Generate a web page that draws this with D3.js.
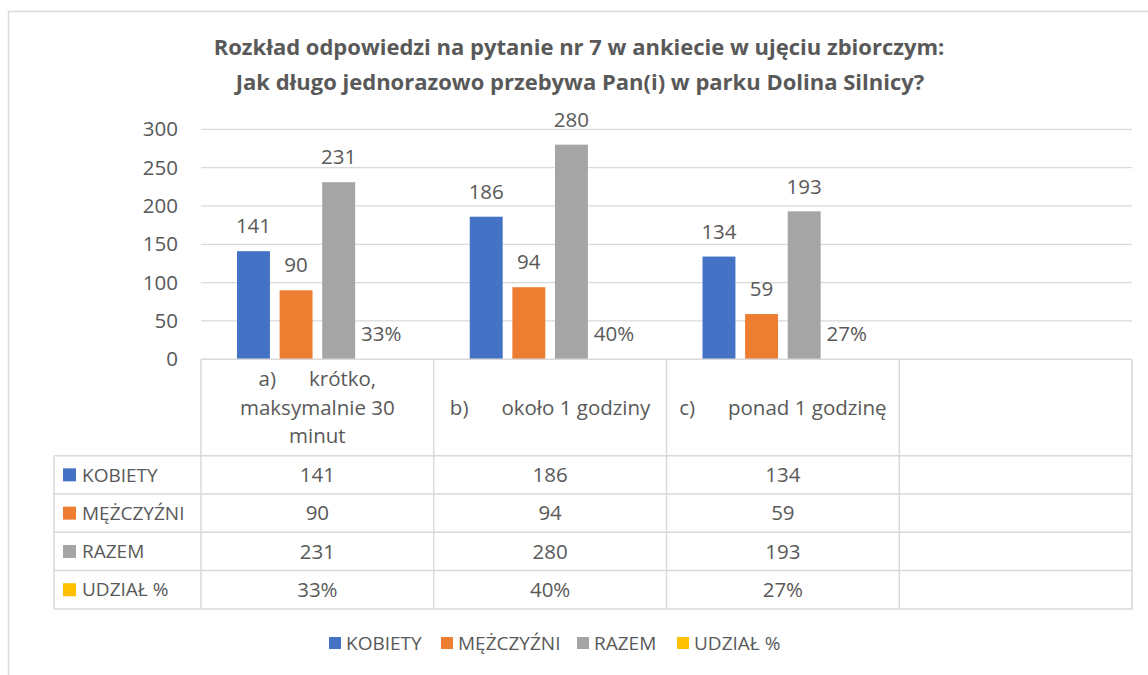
<!DOCTYPE html>
<html>
<head>
<meta charset="utf-8">
<script src="https://cdn.jsdelivr.net/npm/d3@7"></script>
<style>
  body { margin: 0; background: #fff; }
  svg { display: block; font-family: "Open Sans", sans-serif; }
</style>
</head>
<body>
<script>
const canvWidth = 1148, canvHeight = 675;

// data
const categories = ["a)", "b)", "c)", ""];
const headerLines = [
    ["krótko,", "maksymalnie 30", "minut"],
    ["około 1 godziny"],
    ["ponad 1 godzinę"],
    []
];
const series = ["KOBIETY", "MĘŻCZYŹNI", "RAZEM", "UDZIAŁ %"];
const kobiety = [141, 186, 134, null];
const mezczyzni = [90, 94, 59, null];
const razem = [231, 280, 193, null];
const udzial = [0.33, 0.40, 0.27, null];
const yTicks = [0, 50, 100, 150, 200, 250, 300];
const colors = ["#4472C4", "#ED7D31", "#A5A5A5", "#FFC000"];

const values = [kobiety, mezczyzni, razem, udzial];
const fmt = [d3.format("d"), d3.format("d"), d3.format("d"), d3.format(".0%")];

const textColor = "#595959";
const lineColor = "#D9D9D9";
const fontSize = "20.5px";
const capsSize = "19px";

const plot = {left: 201, right: 1132, top: 129.3, bottom: 359.3};
const rowH = 38.3;
const headerBottom = 455.7;
const tableLeft = 54;

const svg = d3.select("body").append("svg")
    .attr("width", canvWidth)
    .attr("height", canvHeight);

// chart border
svg.append("rect")
    .attr("x", 8.5).attr("y", 11.5)
    .attr("width", 1200).attr("height", 700)
    .attr("fill", "white")
    .attr("stroke", lineColor)
    .attr("stroke-width", 1.5);

// title
const title = svg.append("text")
    .attr("text-anchor", "middle")
    .attr("font-weight", "bold")
    .attr("font-size", "22px")
    .attr("fill", textColor);
title.append("tspan").attr("x", 579).attr("y", 55)
    .text("Rozkład odpowiedzi na pytanie nr 7 w ankiecie w ujęciu zbiorczym:");
title.append("tspan").attr("x", 580).attr("y", 90)
    .text("Jak długo jednorazowo przebywa Pan(i) w parku Dolina Silnicy?");

const yScale = d3.scaleLinear().domain([0, 300]).range([plot.bottom, plot.top]);
const x0 = d3.scaleBand().domain(categories.map((d, i) => i)).range([plot.left, plot.right]);
const x1 = d3.scaleBand().domain(series)
    .range([36, x0.bandwidth() - 36])
    .paddingInner(0.227);

// gridlines
svg.append("g")
    .selectAll("line")
    .data(yTicks.filter(d => d > 0))
    .enter().append("line")
    .attr("x1", plot.left).attr("x2", plot.right)
    .attr("y1", d => yScale(d)).attr("y2", d => yScale(d))
    .attr("stroke", lineColor)
    .attr("stroke-width", 1.3);

// y axis labels
const yAxis = d3.axisLeft(yScale).tickValues(yTicks).tickSize(0).tickPadding(23);
svg.append("g")
    .attr("transform", `translate(${plot.left},0)`)
    .call(yAxis)
    .call(g => g.select(".domain").remove())
    .call(g => g.selectAll("text")
        .attr("font-family", "'Open Sans', sans-serif")
        .attr("font-size", fontSize)
        .attr("fill", textColor));

// bars
const groups = svg.append("g").selectAll("g")
    .data(series)
    .enter().append("g")
    .attr("fill", (d, i) => colors[i]);

groups.selectAll("rect")
    .data((s, si) => values[si].map((v, ci) => ({s, si, ci, v})).filter(d => d.v != null))
    .enter().append("rect")
    .attr("x", d => x0(d.ci) + x1(d.s))
    .attr("y", d => yScale(d.v))
    .attr("width", x1.bandwidth())
    .attr("height", d => yScale(0) - yScale(d.v));

groups.selectAll("text")
    .data((s, si) => values[si].map((v, ci) => ({s, si, ci, v})).filter(d => d.v != null))
    .enter().append("text")
    .attr("x", d => x0(d.ci) + x1(d.s) + x1.bandwidth() / 2)
    .attr("y", d => yScale(d.v) - 25)
    .attr("dy", "0.35em")
    .attr("text-anchor", "middle")
    .attr("font-size", fontSize)
    .attr("fill", textColor)
    .text(d => fmt[d.si](d.v));

// data table
const table = svg.append("g")
    .attr("stroke", lineColor)
    .attr("stroke-width", 1.5);

// axis line / table top
table.append("line")
    .attr("x1", plot.left).attr("x2", plot.right)
    .attr("y1", plot.bottom).attr("y2", plot.bottom);

const rowLines = series.map((d, i) => headerBottom + i * rowH).concat([headerBottom + series.length * rowH]);
const tableBottom = rowLines[rowLines.length - 1];

table.selectAll(".rowline")
    .data(rowLines)
    .enter().append("line")
    .attr("class", "rowline")
    .attr("x1", tableLeft).attr("x2", plot.right)
    .attr("y1", d => d).attr("y2", d => d);

table.append("line")
    .attr("x1", tableLeft).attr("x2", tableLeft)
    .attr("y1", headerBottom).attr("y2", tableBottom);

table.selectAll(".colline")
    .data(categories.map((d, i) => x0(i)).concat([plot.right]))
    .enter().append("line")
    .attr("class", "colline")
    .attr("x1", d => d).attr("x2", d => d)
    .attr("y1", plot.bottom).attr("y2", tableBottom);

// header text
const header = svg.append("g")
    .attr("font-size", fontSize)
    .attr("fill", textColor)
    .attr("text-anchor", "middle");

categories.forEach((cat, ci) => {
    const lines = headerLines[ci];
    if (!lines.length) return;
    const cx = x0(ci) + x0.bandwidth() / 2;
    const midY = (plot.bottom + headerBottom) / 2;
    const lh = 28.5;
    const startY = midY - (lines.length - 1) * lh / 2;
    lines.forEach((ln, li) => {
        const t = header.append("text")
            .attr("x", cx)
            .attr("y", startY + li * lh)
            .attr("dy", "0.35em");
        if (li === 0) {
            t.append("tspan").text(cat);
            t.append("tspan").attr("dx", 33).text(ln);
        } else {
            t.text(ln);
        }
    });
});

// row labels with legend keys
series.forEach((s, si) => {
    const cy = headerBottom + si * rowH + rowH / 2;
    svg.append("rect")
        .attr("x", 63).attr("y", cy - 6.5)
        .attr("width", 13).attr("height", 13)
        .attr("fill", colors[si]);
    svg.append("text")
        .attr("x", 82)
        .attr("y", cy)
        .attr("dy", "0.35em")
        .attr("font-size", capsSize)
        .attr("fill", textColor)
        .text(s);
    values[si].forEach((v, ci) => {
        if (v == null) return;
        svg.append("text")
            .attr("x", x0(ci) + x0.bandwidth() / 2)
            .attr("y", cy)
            .attr("dy", "0.35em")
            .attr("text-anchor", "middle")
            .attr("font-size", fontSize)
            .attr("fill", textColor)
            .text(fmt[si](v));
    });
});

// bottom legend
const legendX = [329, 441, 577, 677];
const legend = svg.append("g")
    .selectAll("g")
    .data(series)
    .enter().append("g")
    .attr("transform", (d, i) => `translate(${legendX[i]},643)`);
legend.append("rect")
    .attr("x", 0).attr("y", -6)
    .attr("width", 12).attr("height", 12)
    .attr("fill", (d, i) => colors[i]);
legend.append("text")
    .attr("x", 17)
    .attr("dy", "0.35em")
    .attr("font-size", capsSize)
    .attr("fill", textColor)
    .text(d => d);
</script>
</body>
</html>
